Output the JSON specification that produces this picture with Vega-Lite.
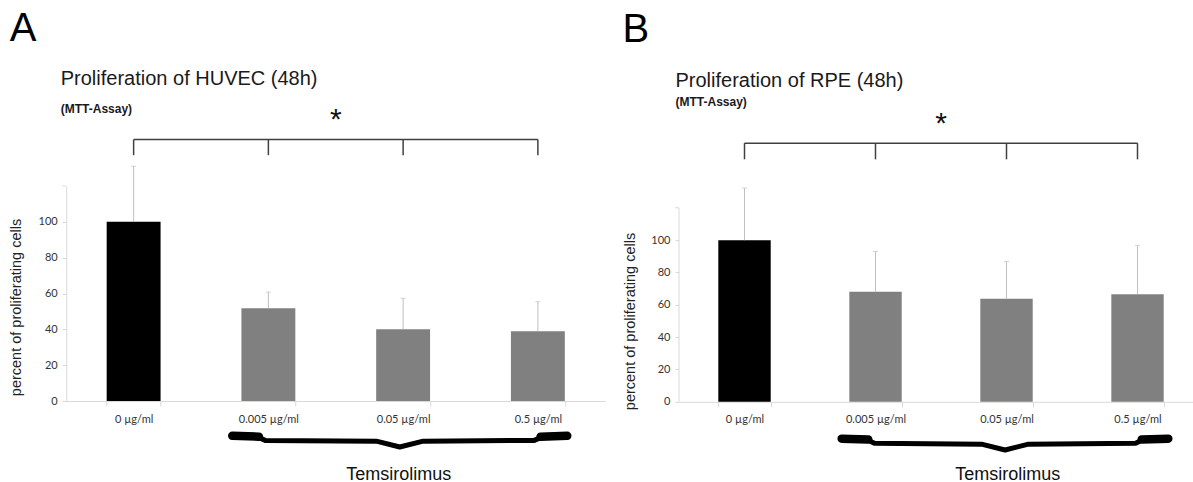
{
  "$schema": "https://vega.github.io/schema/vega-lite/v6.json",
  "padding": {"left": 8.25, "top": 8, "right": 0, "bottom": 0},
  "spacing": 16.75,
  "config": {"view": {"stroke": null}, "axis": {"labelOverlap": false}},
  "datasets": {
    "huvec": [
      {"concentration": "0 µg/ml", "group": "control", "value": 100, "upper": 131},
      {"concentration": "0.005 µg/ml", "group": "Temsirolimus", "value": 51.8, "upper": 60.8},
      {"concentration": "0.05 µg/ml", "group": "Temsirolimus", "value": 40.1, "upper": 57.3},
      {"concentration": "0.5 µg/ml", "group": "Temsirolimus", "value": 39.0, "upper": 55.4}
    ],
    "rpe": [
      {"concentration": "0 µg/ml", "group": "control", "value": 100, "upper": 132.2},
      {"concentration": "0.005 µg/ml", "group": "Temsirolimus", "value": 68.1, "upper": 93.0},
      {"concentration": "0.05 µg/ml", "group": "Temsirolimus", "value": 63.7, "upper": 86.8},
      {"concentration": "0.5 µg/ml", "group": "Temsirolimus", "value": 66.6, "upper": 96.8}
    ],
    "bracketA": [
      {"x": 0, "x2": 3, "y": 145.9, "y2": 145.9},
      {"x": 0, "x2": 0, "y": 137.2, "y2": 145.9},
      {"x": 1, "x2": 1, "y": 137.2, "y2": 145.9},
      {"x": 2, "x2": 2, "y": 137.2, "y2": 145.9},
      {"x": 3, "x2": 3, "y": 137.2, "y2": 145.9}
    ],
    "bracketB": [
      {"x": 0, "x2": 3, "y": 160, "y2": 160},
      {"x": 0, "x2": 0, "y": 150, "y2": 160},
      {"x": 1, "x2": 1, "y": 150, "y2": 160},
      {"x": 2, "x2": 2, "y": 150, "y2": 160},
      {"x": 3, "x2": 3, "y": 150, "y2": 160}
    ],
    "axisA": [
      {"x": -0.53, "x2": -0.5, "y": 120, "y2": 120}
    ],
    "axisB": [
      {"x": -0.5, "x2": -0.5, "y": 0, "y2": 120},
      {"x": -0.5305, "x2": -0.5, "y": 120, "y2": 120}
    ],
    "braceA": [
      {"i": 0, "x": 0.74, "y": -19.8},
      {"i": 1, "x": 0.925, "y": -20.3},
      {"i": 2, "x": 0.977, "y": -22.0},
      {"i": 3, "x": 1.801, "y": -22.4},
      {"i": 4, "x": 1.975, "y": -25.7},
      {"i": 5, "x": 2.149, "y": -22.4},
      {"i": 6, "x": 2.973, "y": -22.0},
      {"i": 7, "x": 3.025, "y": -20.3},
      {"i": 8, "x": 3.21, "y": -19.8}
    ],
    "hooksA": [
      {"x": 0.732, "x2": 0.93, "y": -19.4, "y2": -19.9},
      {"x": 3.02, "x2": 3.218, "y": -19.9, "y2": -19.4}
    ],
    "braceB": [
      {"i": 0, "x": 0.75, "y": -23.2},
      {"i": 1, "x": 0.939, "y": -23.6},
      {"i": 2, "x": 0.992, "y": -25.7},
      {"i": 3, "x": 1.809, "y": -26.2},
      {"i": 4, "x": 1.989, "y": -29.8},
      {"i": 5, "x": 2.168, "y": -26.2},
      {"i": 6, "x": 2.985, "y": -25.7},
      {"i": 7, "x": 3.038, "y": -23.6},
      {"i": 8, "x": 3.227, "y": -23.2}
    ],
    "hooksB": [
      {"x": 0.742, "x2": 0.945, "y": -22.8, "y2": -23.3},
      {"x": 3.032, "x2": 3.235, "y": -23.3, "y2": -22.8}
    ],
    "labelsA": [
      {"x": 1.5, "y": 157, "text": "*", "kind": "star"},
      {"x": 1.967, "y": -41.1, "text": "Temsirolimus", "kind": "drug"}
    ],
    "labelsB": [
      {"x": 1.5, "y": 172, "text": "*", "kind": "star"},
      {"x": 2.01, "y": -45.0, "text": "Temsirolimus", "kind": "drug"}
    ]
  },
  "hconcat": [
    {
      "title": {"text": "A", "anchor": "start", "font": "Liberation Sans", "fontSize": 40, "fontWeight": "normal", "color": "#000", "dx": 1, "offset": 20},
      "hconcat": [
        {
          "width": 539,
          "height": 215,
          "title": {"text": "Proliferation of HUVEC (48h)", "subtitle": "(MTT-Assay)", "anchor": "start", "font": "Liberation Sans", "fontSize": 20, "fontWeight": "normal", "color": "#1a1a1a", "subtitleFont": "Liberation Sans", "subtitleFontSize": 12, "subtitleFontWeight": "bold", "subtitleColor": "#1a1a1a", "subtitlePadding": 15, "dx": 52, "offset": -10},
          "layer": [
            {
              "layer": [
                {
                  "data": {"name": "huvec"},
                  "mark": {"type": "bar"},
                  "encoding": {
                    "x": {"field": "concentration", "type": "nominal", "sort": null, "scale": {"paddingInner": 0.6, "paddingOuter": 0.3},
                      "axis": {"title": null, "labelAngle": 0, "domainColor": "#d9d9d9", "tickColor": "#d9d9d9", "tickSize": 5, "tickBand": "extent", "labelFont": "Lato", "labelFontSize": 11, "labelColor": "#333", "labelPadding": 7}},
                    "y": {"field": "value", "type": "quantitative", "scale": {"domain": [0, 120], "nice": false},
                      "axis": {"title": "percent of proliferating cells", "values": [0, 20, 40, 60, 80, 100], "labelOverlap": false, "grid": false, "domainColor": "#d9d9d9", "tickColor": "#d9d9d9", "tickSize": 4, "labelFont": "Lato", "labelFontSize": 11, "labelColor": "#333", "labelPadding": 5, "titleFont": "Liberation Sans", "titleFontSize": 14.5, "titleFontWeight": "normal", "titleColor": "#222", "titleBaseline": "middle", "titleX": -49.5, "titleY": 121}},
                    "color": {"field": "group", "type": "nominal", "scale": {"domain": ["control", "Temsirolimus"], "range": ["#000000", "#808080"]}, "legend": null}
                  }
                },
                {
                  "data": {"name": "huvec"},
                  "mark": {"type": "rule", "color": "#bfbfbf", "strokeWidth": 1},
                  "encoding": {
                    "x": {"field": "concentration", "type": "nominal", "sort": null},
                    "y": {"field": "value", "type": "quantitative", "scale": {"domain": [0, 120], "nice": false}},
                    "y2": {"field": "upper"}
                  }
                },
                {
                  "data": {"name": "huvec"},
                  "mark": {"type": "tick", "color": "#bfbfbf", "size": 5, "thickness": 1},
                  "encoding": {
                    "x": {"field": "concentration", "type": "nominal", "sort": null},
                    "y": {"field": "upper", "type": "quantitative", "scale": {"domain": [0, 120], "nice": false}}
                  }
                }
              ]
            },
            {
              "layer": [
                {
                  "data": {"name": "axisA"},
                  "mark": {"type": "rule", "color": "#d9d9d9", "strokeWidth": 1},
                  "encoding": {
                    "x": {"field": "x", "type": "quantitative", "scale": {"domain": [-0.5, 3.5], "nice": false, "zero": false}, "axis": null},
                    "x2": {"field": "x2"},
                    "y": {"field": "y", "type": "quantitative", "scale": {"domain": [0, 120], "nice": false}},
                    "y2": {"field": "y2"}
                  }
                },
                {
                  "data": {"name": "bracketA"},
                  "mark": {"type": "rule", "color": "#404040", "strokeWidth": 1.5},
                  "encoding": {
                    "x": {"field": "x", "type": "quantitative", "scale": {"domain": [-0.5, 3.5], "nice": false, "zero": false}, "axis": null},
                    "x2": {"field": "x2"},
                    "y": {"field": "y", "type": "quantitative", "scale": {"domain": [0, 120], "nice": false}},
                    "y2": {"field": "y2"}
                  }
                },
                {
                  "data": {"name": "braceA"},
                  "mark": {"type": "line", "color": "#000", "strokeWidth": 5, "strokeJoin": "round"},
                  "encoding": {
                    "x": {"field": "x", "type": "quantitative", "scale": {"domain": [-0.5, 3.5], "nice": false, "zero": false}, "axis": null},
                    "y": {"field": "y", "type": "quantitative", "scale": {"domain": [0, 120], "nice": false}},
                    "order": {"field": "i"}
                  }
                },
                {
                  "data": {"name": "hooksA"},
                  "mark": {"type": "rule", "color": "#000", "strokeWidth": 8.5, "strokeCap": "round"},
                  "encoding": {
                    "x": {"field": "x", "type": "quantitative", "scale": {"domain": [-0.5, 3.5], "nice": false, "zero": false}, "axis": null},
                    "x2": {"field": "x2"},
                    "y": {"field": "y", "type": "quantitative", "scale": {"domain": [0, 120], "nice": false}},
                    "y2": {"field": "y2"}
                  }
                },
                {
                  "data": {"name": "labelsA"},
                  "mark": {"type": "text", "font": "Liberation Sans", "color": "#111"},
                  "encoding": {
                    "x": {"field": "x", "type": "quantitative", "scale": {"domain": [-0.5, 3.5], "nice": false, "zero": false}, "axis": null},
                    "y": {"field": "y", "type": "quantitative", "scale": {"domain": [0, 120], "nice": false}},
                    "text": {"field": "text"},
                    "size": {"field": "kind", "type": "nominal", "scale": {"domain": ["star", "drug"], "range": [30, 18]}, "legend": null},
                    "baseline": {"value": "alphabetic"}
                  }
                }
              ]
            }
          ],
          "resolve": {"scale": {"x": "independent"}}
        }
      ]
    },
    {
      "title": {"text": "B", "anchor": "start", "font": "Liberation Sans", "fontSize": 40, "fontWeight": "normal", "color": "#000", "dx": 0, "offset": 20.5},
      "hconcat": [
        {
          "width": 514.5,
          "height": 215.8,
          "title": {"text": "Proliferation of RPE (48h)", "subtitle": "(MTT-Assay)", "anchor": "start", "font": "Liberation Sans", "fontSize": 20, "fontWeight": "normal", "color": "#1a1a1a", "subtitleFont": "Liberation Sans", "subtitleFontSize": 12, "subtitleFontWeight": "bold", "subtitleColor": "#1a1a1a", "subtitlePadding": 6, "dx": 53, "offset": 1},
          "layer": [
            {
              "layer": [
                {
                  "data": {"name": "rpe"},
                  "mark": {"type": "bar"},
                  "encoding": {
                    "x": {"field": "concentration", "type": "nominal", "sort": null, "scale": {"paddingInner": 0.6, "paddingOuter": 0.2637, "align": 0.569},
                      "axis": {"title": null, "labelAngle": 0, "domainColor": "#d9d9d9", "tickColor": "#d9d9d9", "tickSize": 5, "tickBand": "extent", "labelFont": "Lato", "labelFontSize": 11, "labelColor": "#333", "labelPadding": 7}},
                    "y": {"field": "value", "type": "quantitative", "scale": {"domain": [0, 133.5], "nice": false},
                      "axis": {"title": "percent of proliferating cells", "values": [0, 20, 40, 60, 80, 100], "labelOverlap": false, "grid": false, "domain": false, "tickColor": "#d9d9d9", "tickSize": 4, "labelFont": "Lato", "labelFontSize": 11, "labelColor": "#333", "labelPadding": 5, "titleFont": "Liberation Sans", "titleFontSize": 14.5, "titleFontWeight": "normal", "titleColor": "#222", "titleBaseline": "middle", "titleX": -48.5, "titleY": 135}},
                    "color": {"field": "group", "type": "nominal", "scale": {"domain": ["control", "Temsirolimus"], "range": ["#000000", "#808080"]}, "legend": null}
                  }
                },
                {
                  "data": {"name": "rpe"},
                  "mark": {"type": "rule", "color": "#bfbfbf", "strokeWidth": 1},
                  "encoding": {
                    "x": {"field": "concentration", "type": "nominal", "sort": null},
                    "y": {"field": "value", "type": "quantitative", "scale": {"domain": [0, 133.5], "nice": false}},
                    "y2": {"field": "upper"}
                  }
                },
                {
                  "data": {"name": "rpe"},
                  "mark": {"type": "tick", "color": "#bfbfbf", "size": 5, "thickness": 1},
                  "encoding": {
                    "x": {"field": "concentration", "type": "nominal", "sort": null},
                    "y": {"field": "upper", "type": "quantitative", "scale": {"domain": [0, 133.5], "nice": false}}
                  }
                }
              ]
            },
            {
              "layer": [
                {
                  "data": {"name": "axisB"},
                  "mark": {"type": "rule", "color": "#d9d9d9", "strokeWidth": 1},
                  "encoding": {
                    "x": {"field": "x", "type": "quantitative", "scale": {"domain": [-0.5, 3.4275], "nice": false, "zero": false}, "axis": null},
                    "x2": {"field": "x2"},
                    "y": {"field": "y", "type": "quantitative", "scale": {"domain": [0, 133.5], "nice": false}},
                    "y2": {"field": "y2"}
                  }
                },
                {
                  "data": {"name": "bracketB"},
                  "mark": {"type": "rule", "color": "#404040", "strokeWidth": 1.5},
                  "encoding": {
                    "x": {"field": "x", "type": "quantitative", "scale": {"domain": [-0.5, 3.4275], "nice": false, "zero": false}, "axis": null},
                    "x2": {"field": "x2"},
                    "y": {"field": "y", "type": "quantitative", "scale": {"domain": [0, 133.5], "nice": false}},
                    "y2": {"field": "y2"}
                  }
                },
                {
                  "data": {"name": "braceB"},
                  "mark": {"type": "line", "color": "#000", "strokeWidth": 5, "strokeJoin": "round"},
                  "encoding": {
                    "x": {"field": "x", "type": "quantitative", "scale": {"domain": [-0.5, 3.4275], "nice": false, "zero": false}, "axis": null},
                    "y": {"field": "y", "type": "quantitative", "scale": {"domain": [0, 133.5], "nice": false}},
                    "order": {"field": "i"}
                  }
                },
                {
                  "data": {"name": "hooksB"},
                  "mark": {"type": "rule", "color": "#000", "strokeWidth": 8.5, "strokeCap": "round"},
                  "encoding": {
                    "x": {"field": "x", "type": "quantitative", "scale": {"domain": [-0.5, 3.4275], "nice": false, "zero": false}, "axis": null},
                    "x2": {"field": "x2"},
                    "y": {"field": "y", "type": "quantitative", "scale": {"domain": [0, 133.5], "nice": false}},
                    "y2": {"field": "y2"}
                  }
                },
                {
                  "data": {"name": "labelsB"},
                  "mark": {"type": "text", "font": "Liberation Sans", "color": "#111"},
                  "encoding": {
                    "x": {"field": "x", "type": "quantitative", "scale": {"domain": [-0.5, 3.4275], "nice": false, "zero": false}, "axis": null},
                    "y": {"field": "y", "type": "quantitative", "scale": {"domain": [0, 133.5], "nice": false}},
                    "text": {"field": "text"},
                    "size": {"field": "kind", "type": "nominal", "scale": {"domain": ["star", "drug"], "range": [30, 18]}, "legend": null},
                    "baseline": {"value": "alphabetic"}
                  }
                }
              ]
            }
          ],
          "resolve": {"scale": {"x": "independent"}}
        }
      ]
    }
  ]
}
